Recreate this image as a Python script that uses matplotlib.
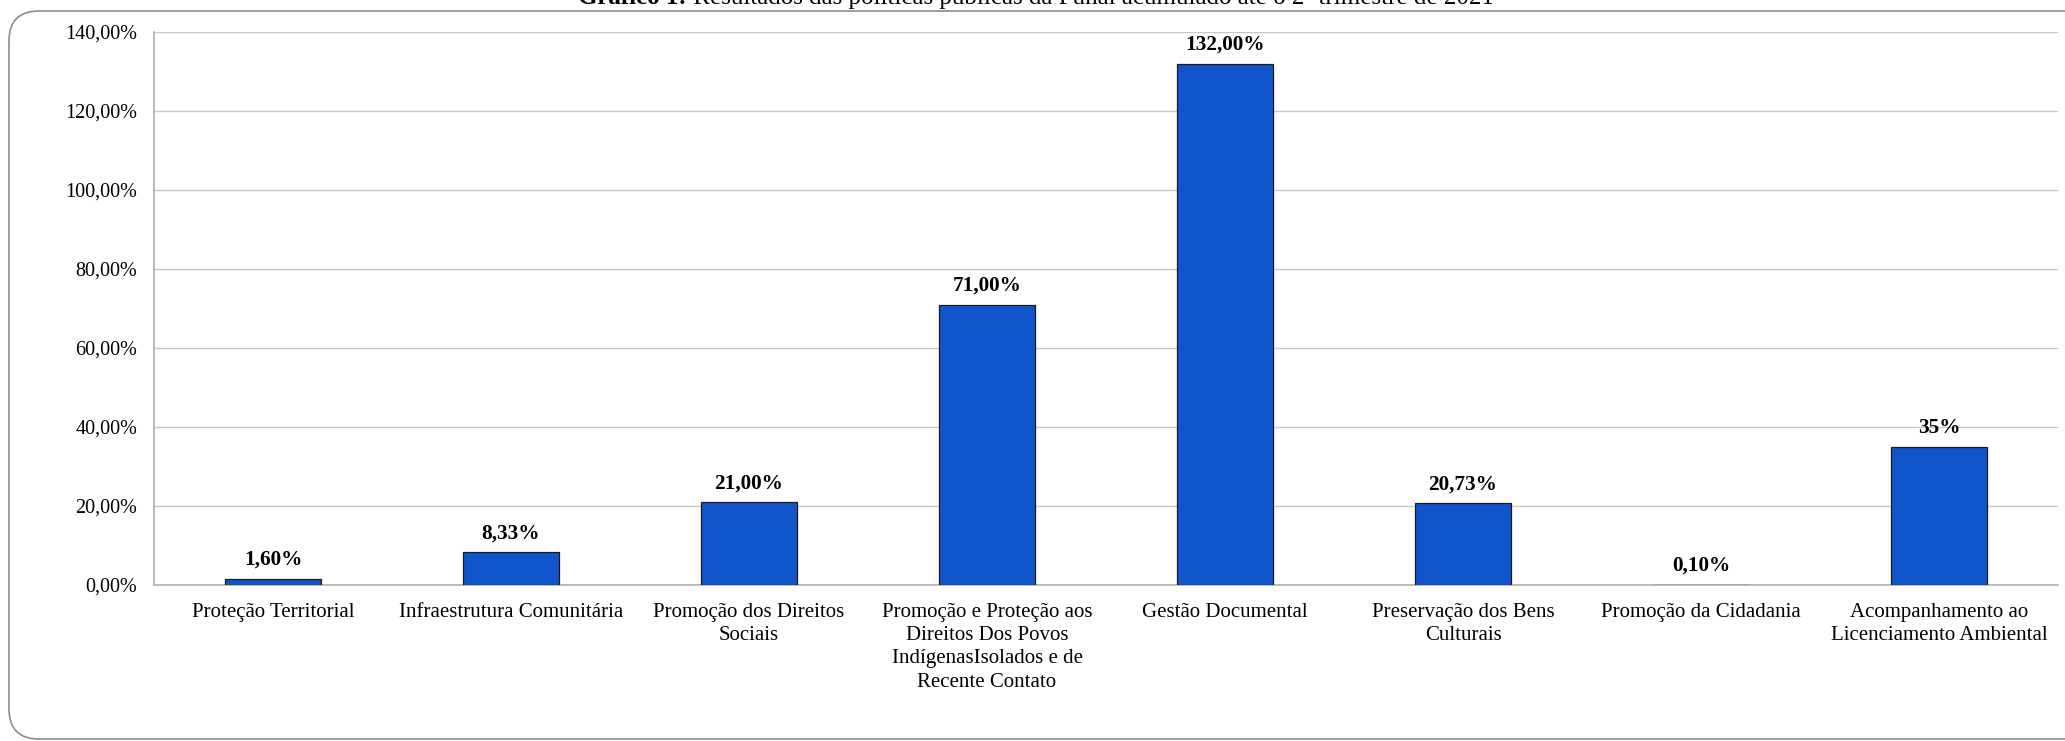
"""Gráfico 1: resultados das políticas públicas da Funai (2º trimestre de 2021)."""

import matplotlib

matplotlib.use("Agg")

import matplotlib.pyplot as plt  # noqa: E402
from matplotlib.patches import FancyBboxPatch  # noqa: E402
from matplotlib.ticker import FuncFormatter, MultipleLocator  # noqa: E402

categorias = [
    "Proteção Territorial",
    "Infraestrutura Comunitária",
    "Promoção dos Direitos\nSociais",
    "Promoção e Proteção aos\nDireitos Dos Povos\nIndígenasIsolados e de\nRecente Contato",
    "Gestão Documental",
    "Preservação dos Bens\nCulturais",
    "Promoção da Cidadania",
    "Acompanhamento ao\nLicenciamento Ambiental",
]
valores = [1.60, 8.33, 21.00, 71.00, 132.00, 20.73, 0.10, 35.00]
rotulos = ["1,60%", "8,33%", "21,00%", "71,00%", "132,00%", "20,73%", "0,10%", "35%"]

titulo_negrito = "Gráfico 1:"
titulo_resto = " Resultados das políticas públicas da Funai acumulado até o 2º trimestre de 2021"

plt.rcParams["font.family"] = ["Liberation Serif", "DejaVu Serif"]

W, H = 2065, 741
fig = plt.figure(figsize=(W / 100, H / 100), dpi=100)

# Moldura arredondada em volta do gráfico (coordenadas em pixels, origem embaixo).
moldura = FancyBboxPatch(
    (9, 2), W + 30, H - 13,
    boxstyle="round,pad=0,rounding_size=30",
    transform=None, facecolor="none", edgecolor="#8c8c8c",
    linewidth=1.2, zorder=-1,
)
fig.patches.append(moldura)

ax = fig.add_axes([154 / W, 1 - 585 / H, (2058 - 154) / W, (585 - 32) / H])
ax.patch.set_alpha(0)
x = range(len(categorias))
ax.bar(x, valores, width=0.40, color="#1155cc", edgecolor="#1a1a1a", linewidth=0.9, zorder=3)

for xi, v, r in zip(x, valores, rotulos):
    ax.annotate(r, (xi, v), xytext=(0, 10), textcoords="offset points",
                ha="center", va="baseline", fontsize=15.3, fontweight="bold")

ax.set_xlim(-0.5, len(categorias) - 0.5)
ax.set_ylim(0, 140)
ax.yaxis.set_major_locator(MultipleLocator(20))
ax.yaxis.set_major_formatter(FuncFormatter(lambda v, _: f"{v:.2f}%".replace(".", ",")))
ax.set_xticks(list(x), labels=categorias, linespacing=1.3)
ax.tick_params(axis="both", length=0)
ax.tick_params(axis="y", pad=12, labelsize=14.5)
ax.tick_params(axis="x", pad=13, labelsize=15)
ax.grid(axis="y", color="#c8c8c8", linewidth=1.0, zorder=0)
ax.set_axisbelow(True)
for lado in ("top", "right"):
    ax.spines[lado].set_visible(False)
for lado in ("left", "bottom"):
    ax.spines[lado].set_color("#b0b0b0")
    ax.spines[lado].set_linewidth(1.2)

# Título cortado no topo, como na imagem original.
tam_titulo = 18
t1 = fig.text(0.5, 1 - 4 / H, titulo_negrito + titulo_resto, ha="center", va="baseline",
              fontsize=tam_titulo, alpha=0)
fig.canvas.draw()
bb = t1.get_window_extent()
tb = fig.text(bb.x0 / W, 1 - 4 / H, titulo_negrito, ha="left", va="baseline",
              fontsize=tam_titulo, fontweight="bold")
fig.canvas.draw()
bb2 = tb.get_window_extent()
fig.text(bb2.x1 / W, 1 - 4 / H, titulo_resto, ha="left", va="baseline", fontsize=tam_titulo)

fig.savefig("out.png", dpi=100)
